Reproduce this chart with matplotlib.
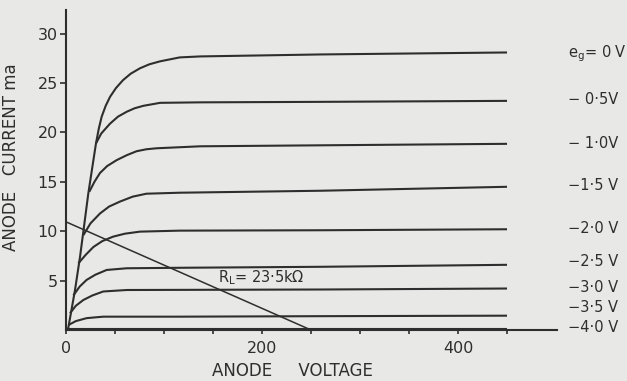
import matplotlib
matplotlib.use("Agg")
import matplotlib.pyplot as plt

# anode characteristics (volts, mA)
V_0 = [0, 2.3, 9.2, 14.3, 18.4, 22.8, 30.6, 33.5, 36.4, 40.5, 44.9, 51, 58.2, 66,
       75.5, 85, 95.9, 116, 137, 260, 450]
I_0 = [0, 0.2, 4.05, 7.4, 10.5, 13.85, 18.9, 20.4, 21.6, 22.7, 23.6, 24.5, 25.3, 25.95,
       26.5, 26.9, 27.2, 27.6, 27.7, 27.9, 28.1]
V_05 = [30.6, 36, 45, 53, 62, 70, 79, 96, 137, 260, 450]
I_05 = [18.9, 19.9, 20.9, 21.6, 22.1, 22.45, 22.7, 23.0, 23.05, 23.1, 23.2]
V_10 = [23.8, 29, 34.7, 42, 51.7, 62, 72, 82, 92.5, 137, 260, 450]
I_10 = [14.0, 15.0, 15.9, 16.6, 17.2, 17.7, 18.1, 18.3, 18.4, 18.6, 18.7, 18.85]
V_15 = [17.7, 25, 34.7, 44, 55, 68, 82, 116, 260, 450]
I_15 = [9.6, 10.8, 11.8, 12.5, 13.0, 13.5, 13.8, 13.9, 14.1, 14.5]
V_20 = [12.6, 20, 27.9, 37, 48, 60, 75.5, 116, 260, 450]
I_20 = [6.75, 7.6, 8.4, 9.0, 9.45, 9.75, 9.96, 10.06, 10.1, 10.2]
V_25 = [7.5, 14, 21, 30, 41.5, 62, 116, 260, 450]
I_25 = [3.5, 4.4, 5.07, 5.6, 6.08, 6.25, 6.3, 6.4, 6.6]
V_30 = [4.1, 10, 17.7, 27, 38, 62, 260, 450]
I_30 = [1.7, 2.45, 3.04, 3.5, 3.9, 4.05, 4.1, 4.2]
V_35 = [2.4, 10, 21, 38, 116, 260, 450]
I_35 = [0.5, 0.9, 1.2, 1.35, 1.35, 1.4, 1.45]
V_40 = [0, 450]
I_40 = [0.1, 0.1]

curves = [(V_0, I_0), (V_05, I_05), (V_10, I_10), (V_15, I_15), (V_20, I_20),
          (V_25, I_25), (V_30, I_30), (V_35, I_35), (V_40, I_40)]

grid_labels = ["e$_\\mathrm{g}$= 0 V", "\u2212 0\u00b75V", "\u2212 1\u00b70V", "\u22121\u00b75 V",
               "\u22122\u00b70 V", "\u22122\u00b75 V", "\u22123\u00b70 V", "\u22123\u00b75 V", "\u22124\u00b70 V"]
label_I = [28.0, 23.3, 18.9, 14.6, 10.3, 6.9, 4.3, 2.3, 0.3]

# load line
LOAD_V = [0, 250]
LOAD_I = [10.95, 0]

ink = "#2e2e2e"
paper = "#e8e8e6"

fig = plt.figure(figsize=(6.27, 3.81), dpi=100, facecolor=paper)
ax = fig.add_axes([66 / 627, 51 / 381, 491 / 627, 320 / 381])
ax.set_facecolor(paper)

for v, i in curves:
    ax.plot(v, i, color=ink, lw=1.5, solid_capstyle="butt", solid_joinstyle="round")
ax.plot(LOAD_V, LOAD_I, color=ink, lw=1.1)

ax.set_xlim(0, 501)
ax.set_ylim(0, 32.4)
for s in ["top", "right"]:
    ax.spines[s].set_visible(False)
for s in ["left", "bottom"]:
    ax.spines[s].set_color(ink)
    ax.spines[s].set_linewidth(1.5)

ax.set_yticks([5, 10, 15, 20, 25, 30])
ax.set_xticks(range(0, 500, 50))
ax.set_xticklabels([str(t) if t in (0, 200, 400) else "" for t in range(0, 500, 50)])
ax.tick_params(axis="y", direction="out", length=4, width=1.2, pad=2,
               labelsize=11.5, colors=ink)
ax.tick_params(axis="x", direction="out", length=3, width=1.2, pad=5,
               labelsize=11.5, colors=ink)

ax.set_ylabel("ANODE   CURRENT ma", fontsize=12, color=ink)
ax.yaxis.set_label_coords(-0.094, 0.54)
fig.text(292 / 627, 1 - 371 / 381, "ANODE     VOLTAGE", fontsize=12, color=ink,
         ha="center", va="center")

for lab, y in zip(grid_labels, label_I):
    ax.text(512, y, lab, fontsize=10.5, color=ink, va="center", ha="left", clip_on=False)

ax.text(155, 5.3, "R$_\\mathrm{L}$= 23\u00b75k\u03a9", fontsize=10.5, color=ink,
        va="center", ha="left")

fig.savefig("out.png", dpi=100, facecolor=paper)
